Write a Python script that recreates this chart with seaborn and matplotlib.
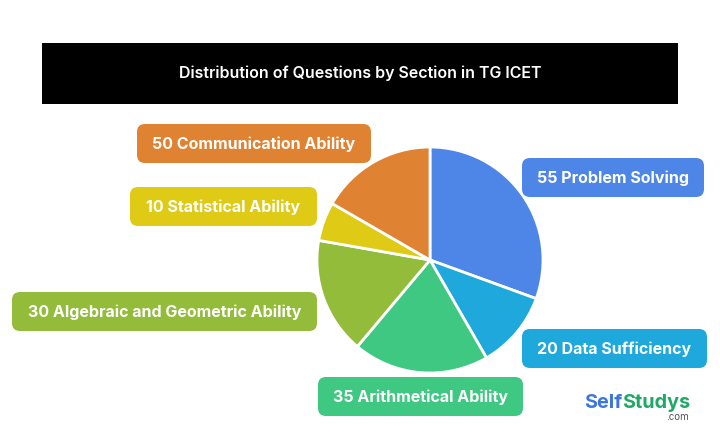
"""Distribution of questions by section, pie with coloured label boxes."""
import matplotlib
matplotlib.use('Agg')
import matplotlib.pyplot as plt
from matplotlib.patches import FancyBboxPatch, Rectangle
import seaborn as sns

sections = ["Problem Solving", "Data Sufficiency", "Arithmetical Ability",
            "Algebraic and Geometric Ability", "Statistical Ability", "Communication Ability"]
label_numbers = [55, 20, 35, 30, 10, 50]
# slice sizes as drawn in the picture (the orange slice is smaller than its label says)
slice_values = [55, 20, 35, 30, 10, 30]
colors = ["#4e86e8", "#1fa8dc", "#3ec882", "#92bc3a", "#dfcb16", "#df8231"]

# label boxes in pixels: left, top, right, bottom
boxes = [(522, 158, 704, 197), (522, 329, 707, 368), (318, 377, 523, 416),
         (12, 292, 317, 331), (130, 187, 317, 226), (137, 124, 371, 163)]

W, H = 720, 446

sns.set_theme(style="white")
plt.rcParams['font.family'] = ['Inter', 'DejaVu Sans']

fig = plt.figure(figsize=(7.2, 4.46), dpi=100)
ax = fig.add_axes([0, 0, 1, 1])

# title bar
ax.add_patch(Rectangle((42, 43), 636, 61, color="black", lw=0))
ax.text(360, 73, "Distribution of Questions by Section in TG ICET", color="white",
        fontsize=11.5, fontweight="semibold", ha="center", va="center")

# y axis is flipped, so -90 is the top of the pie and it runs clockwise on screen
ax.pie(slice_values, colors=colors, center=(430, 260), radius=113, startangle=-90,
       counterclock=True, frame=True, wedgeprops=dict(edgecolor="white", linewidth=2))
ax.set_xlim(0, W)
ax.set_ylim(H, 0)
ax.set_aspect("auto")
ax.axis("off")

for (x0, y0, x1, y1), n, name, c in zip(boxes, label_numbers, sections, colors):
    ax.add_patch(FancyBboxPatch((x0 + 8, y0 + 8), x1 - x0 - 16, y1 - y0 - 16,
                                boxstyle="round,pad=8,rounding_size=8", fc=c, ec="none"))
    ax.text((x0 + x1) / 2, (y0 + y1) / 2 - 1, f"{n} {name}", color="white", fontsize=11.55,
            fontweight="bold", ha="center", va="center_baseline")

# logo
ax.text(584, 408, "Self", color="#3b76dc", fontsize=14.3, fontweight="bold", ha="left", va="baseline")
ax.text(622, 408, "Studys", color="#1fa866", fontsize=14.3, fontweight="bold", ha="left", va="baseline")
ax.text(689, 420, ".com", color="#555555", fontsize=7, ha="right", va="baseline")

fig.savefig("out.png", dpi=100)
plt.close(fig)
